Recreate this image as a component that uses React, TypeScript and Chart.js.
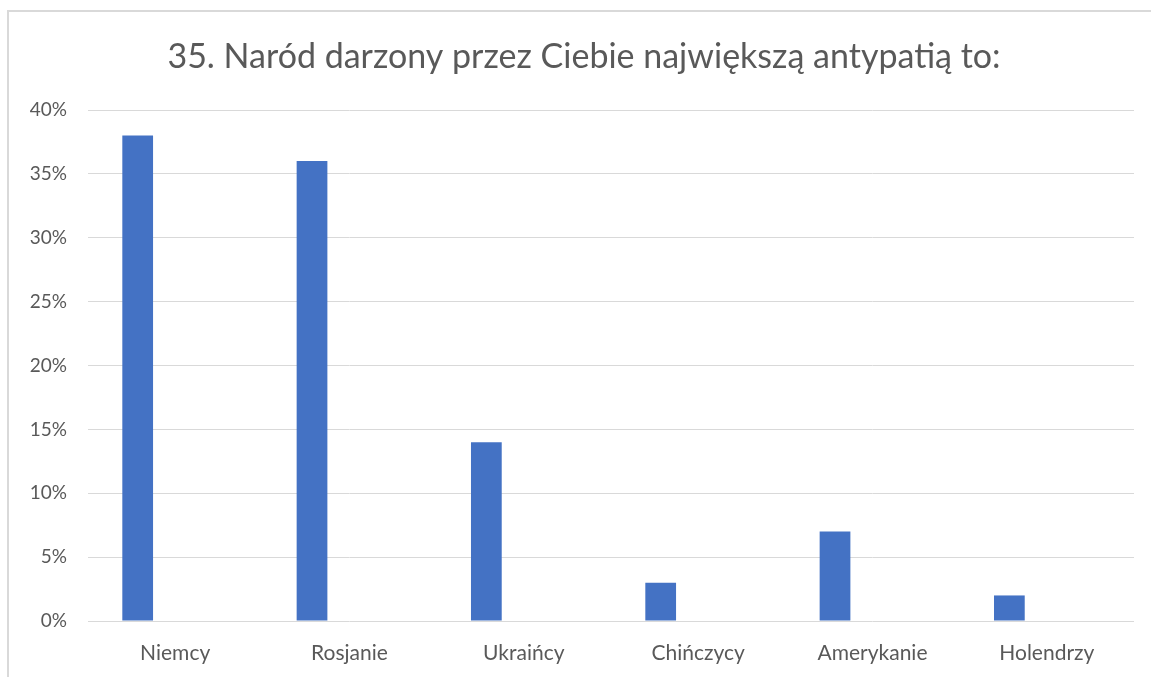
import React, { useEffect, useRef } from "react";
import { Chart, registerables } from "chart.js";

Chart.register(...registerables);

const categories = ["Niemcy", "Rosjanie", "Ukraińcy", "Chińczycy", "Amerykanie", "Holendrzy"];
const seriesValues = [38, 36, 14, 3, 7, 2];
const emptySeries = [null, null, null, null, null, null];
const titleText = "35. Naród darzony przez Ciebie największą antypatią to:";

const titlePlugin = {
  id: "offsetTitle",
  afterDraw(chart: any) {
    const ctx = chart.ctx;
    ctx.save();
    ctx.fillStyle = "#595959";
    ctx.font = "34px Lato";
    ctx.textAlign = "center";
    ctx.textBaseline = "middle";
    ctx.fillText(titleText, chart.width / 2 + 8.5, 57);
    ctx.restore();
  },
};

export default function App() {
  const ref = useRef<HTMLCanvasElement | null>(null);

  useEffect(() => {
    if (!ref.current) return;
    const chart = new Chart(ref.current, {
      type: "bar",
      data: {
        labels: categories,
        datasets: [
          {
            label: "Seria 1",
            data: seriesValues,
            backgroundColor: "#4472c4",
            borderWidth: 0,
            categoryPercentage: 0.86,
            barPercentage: 0.41,
          },
          {
            label: "Seria 2",
            data: emptySeries as any,
            backgroundColor: "#ed7d31",
            borderWidth: 0,
            categoryPercentage: 0.86,
            barPercentage: 0.41,
          },
        ],
      },
      options: {
        animation: false,
        responsive: false,
        maintainAspectRatio: false,
        layout: { padding: { left: 0, right: 17, top: 110, bottom: 0 } },
        plugins: {
          legend: { display: false },
          tooltip: { enabled: false },
          title: { display: false },
        },
        scales: {
          x: {
            grid: { display: false, drawTicks: false },
            border: { display: false },
            ticks: {
              color: "#595959",
              font: { family: "Lato", size: 21 },
              padding: 20,
              maxRotation: 0,
            },
            afterFit: (scale: any) => {
              scale.height = 56;
            },
          },
          y: {
            min: 0,
            max: 40,
            grid: { color: "#d9d9d9", lineWidth: 1, drawTicks: false },
            border: { display: false },
            ticks: {
              stepSize: 5,
              color: "#595959",
              font: { family: "Lato", size: 19 },
              padding: 21,
              callback: (v: any) => `${v}%`,
            },
            afterFit: (scale: any) => {
              scale.width = 88;
            },
          },
        },
      },
      plugins: [titlePlugin],
    });
    return () => chart.destroy();
  }, []);

  return (
    <div style={{ position: "absolute", left: 0, top: 0, width: 1151, height: 677, background: "#fff" }}>
      <div
        style={{
          position: "absolute",
          left: 7,
          top: 10,
          width: 1144,
          height: 667,
          borderTop: "2px solid #d9d9d9",
          borderLeft: "2px solid #d9d9d9",
          boxSizing: "border-box",
        }}
      />
      <canvas ref={ref} width={1151} height={677} style={{ position: "absolute", left: 0, top: 0, display: "block" }} />
    </div>
  );
}
